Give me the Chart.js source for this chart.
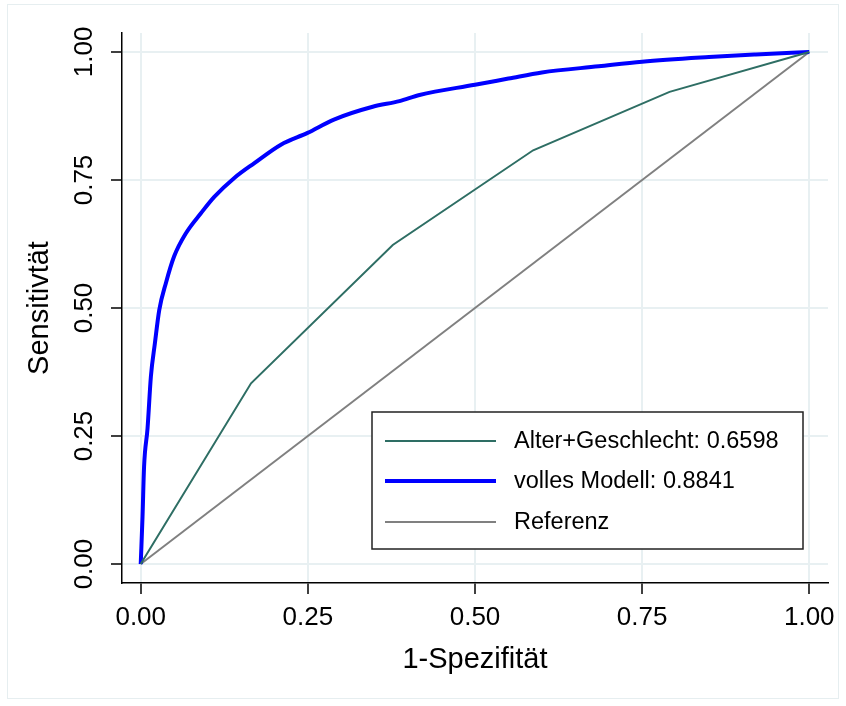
<!DOCTYPE html>
<html>
<head>
<meta charset="utf-8">
<script src="https://cdn.jsdelivr.net/npm/chart.js@4.4.1/dist/chart.umd.min.js"></script>
<style>
    html, body { margin: 0; padding: 0; background: #fff; }
</style>
</head>
<body>
<canvas id="roc" width="846" height="706"></canvas>
<script>
// tick positions on both axes
const tickValues = [0, 0.25, 0.5, 0.75, 1];
const seriesLabels = ["Alter+Geschlecht: 0.6598", "volles Modell: 0.8841", "Referenz"];

// Alter+Geschlecht (few cut points)
const fprAlter = [0, 0.165, 0.377, 0.587, 0.791, 1];
const tprAlter = [0, 0.353, 0.623, 0.808, 0.922, 1];

// volles Modell
const fprVoll = [0, 0.0027, 0.005, 0.0102, 0.0152, 0.0212, 0.0277, 0.0377, 0.050, 0.0676, 0.090, 0.110, 0.140,
    0.170, 0.2097, 0.2495, 0.289, 0.347, 0.387, 0.417, 0.5, 0.55, 0.6, 0.685, 0.75, 0.85, 0.92, 1];
const tprVoll = [0, 0.0925, 0.19, 0.265, 0.366, 0.431, 0.496, 0.549, 0.601, 0.646, 0.685, 0.717, 0.754,
    0.783, 0.819, 0.842, 0.868, 0.893, 0.904, 0.916, 0.936, 0.948, 0.960, 0.972, 0.981, 0.99, 0.995, 1];

// Referenz
const fprRef = [0, 1];
const tprRef = [0, 1];

const colAlter = "#2e6e64";
const colVoll = "#0000ff";
const colRef = "#808080";
const gridCol = "#e8f0f2";
const font = "'Liberation Sans', Arial, sans-serif";

function toPoints(xs, ys) {
    return xs.map((x, i) => ({ x: x, y: ys[i] }));
}

// outer light frame + legend box inside plot
const stataDecor = {
    id: "stataDecor",
    beforeDraw(chart) {
        const ctx = chart.ctx;
        ctx.save();
        ctx.strokeStyle = "#e6eef0";
        ctx.lineWidth = 1;
        ctx.strokeRect(7.5, 4.5, 831, 694);
        ctx.restore();
    },
    afterDraw(chart) {
        const ctx = chart.ctx;
        const box = { l: 372, t: 412, r: 803, b: 549 };
        ctx.save();
        ctx.fillStyle = "#fff";
        ctx.fillRect(box.l, box.t, box.r - box.l, box.b - box.t);
        ctx.strokeStyle = "#222";
        ctx.lineWidth = 1.5;
        ctx.strokeRect(box.l, box.t, box.r - box.l, box.b - box.t);
        const rows = [441, 481, 522];
        ctx.font = "23.5px " + font;
        ctx.textBaseline = "middle";
        chart.data.datasets.forEach((ds, i) => {
            ctx.strokeStyle = ds.borderColor;
            ctx.lineWidth = ds.borderWidth;
            ctx.beginPath();
            ctx.moveTo(385, rows[i]);
            ctx.lineTo(496, rows[i]);
            ctx.stroke();
            ctx.fillStyle = "#000";
            ctx.fillText(ds.label, 514, rows[i] + 1);
        });
        ctx.restore();
    }
};

function fixTicks(scale) {
    scale.ticks = tickValues.map(v => ({ value: v }));
}

new Chart(document.getElementById("roc"), {
    type: "scatter",
    data: {
        datasets: [
            { label: seriesLabels[0], data: toPoints(fprAlter, tprAlter), showLine: true,
              borderColor: colAlter, borderWidth: 2, pointRadius: 0 },
            { label: seriesLabels[1], data: toPoints(fprVoll, tprVoll), showLine: true,
              borderColor: colVoll, borderWidth: 4, pointRadius: 0, cubicInterpolationMode: "monotone" },
            { label: seriesLabels[2], data: toPoints(fprRef, tprRef), showLine: true,
              borderColor: colRef, borderWidth: 2, pointRadius: 0 }
        ]
    },
    options: {
        responsive: false,
        animation: false,
        layout: { padding: { top: 33, right: 18, left: 0, bottom: 0 } },
        plugins: {
            legend: { display: false },
            tooltip: { enabled: false }
        },
        scales: {
            x: {
                type: "linear",
                min: -0.028,
                max: 1.028,
                afterBuildTicks: fixTicks,
                afterFit(scale) { scale.height = 123; },
                border: { color: "#000", width: 1.5 },
                grid: { color: gridCol, lineWidth: 2, tickColor: "#000", tickLength: 11, tickWidth: 1.5 },
                ticks: {
                    color: "#000",
                    font: { family: font, size: 26 },
                    padding: 8,
                    maxRotation: 0,
                    callback: v => v.toFixed(2)
                },
                title: {
                    display: true,
                    text: "1-Spezifität",
                    color: "#000",
                    font: { family: font, size: 29 },
                    padding: 29
                }
            },
            y: {
                type: "linear",
                min: -0.037,
                max: 1.037,
                afterBuildTicks: fixTicks,
                afterFit(scale) { scale.width = 122; },
                border: { color: "#000", width: 1.5 },
                grid: { color: gridCol, lineWidth: 2, tickColor: "#000", tickLength: 11, tickWidth: 1.5 },
                ticks: {
                    color: "#000",
                    font: { family: font, size: 26 },
                    padding: 1,
                    minRotation: 90,
                    maxRotation: 90,
                    crossAlign: "center",
                    callback: v => v.toFixed(2)
                },
                title: {
                    display: true,
                    text: "Sensitivtät",
                    color: "#000",
                    font: { family: font, size: 29 },
                    padding: 23
                }
            }
        }
    },
    plugins: [stataDecor]
});
</script>
</body>
</html>
